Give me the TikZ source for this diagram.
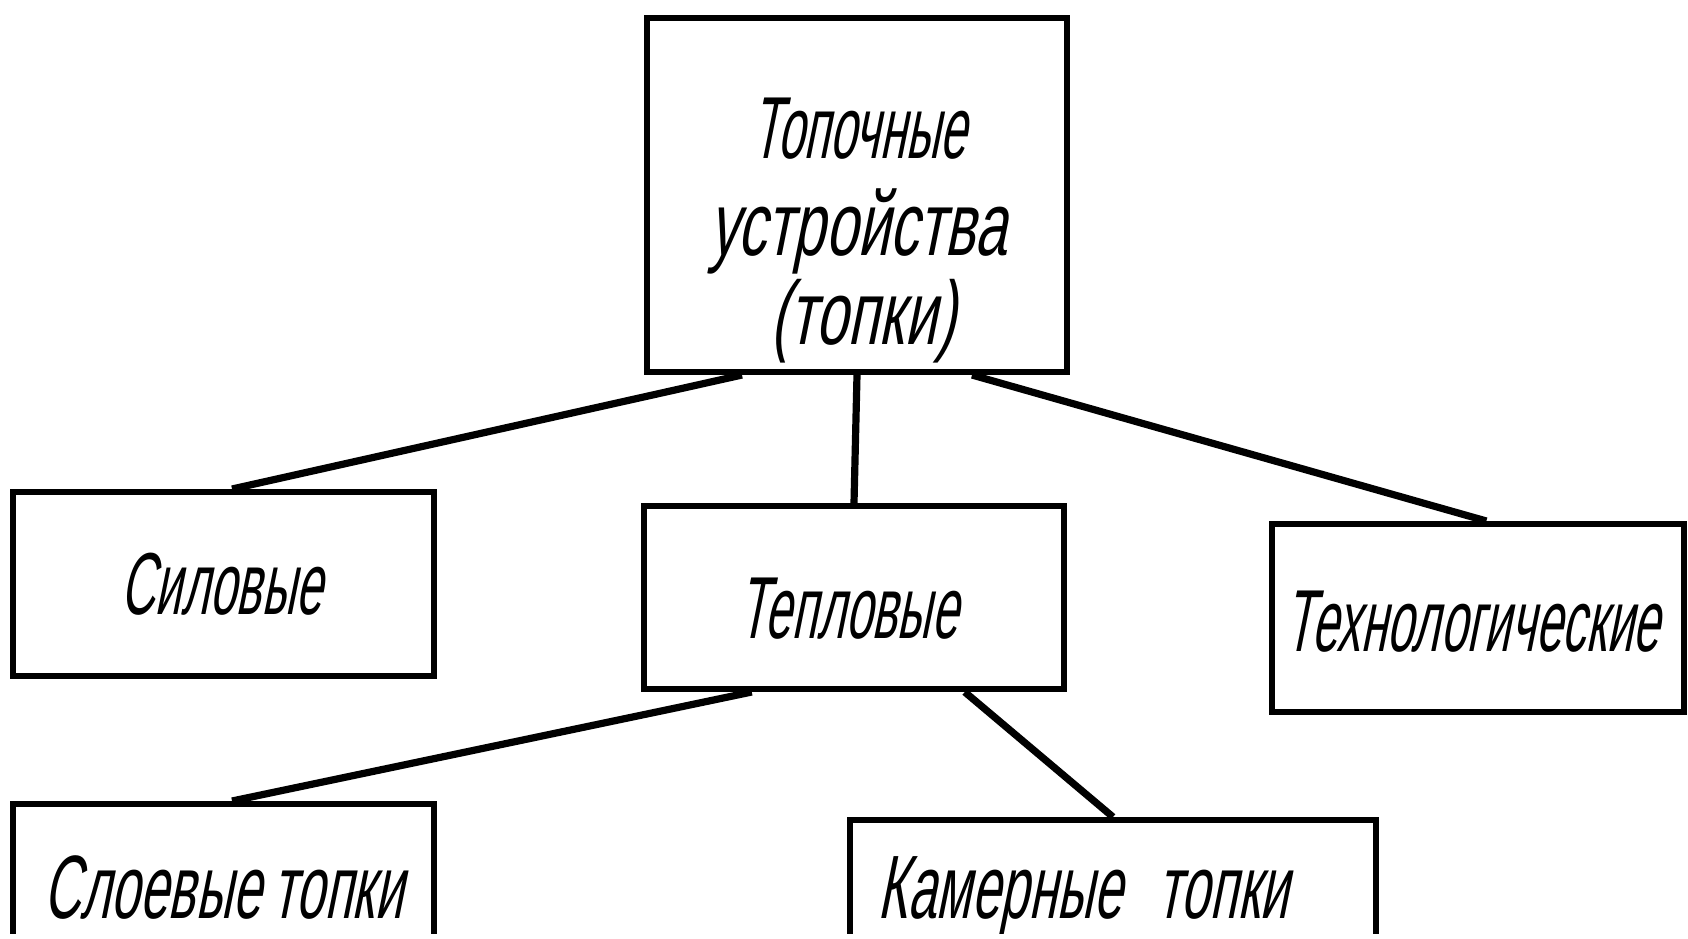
\documentclass[tikz,border=0pt]{standalone}
\usepackage{fontspec}
\newfontfamily\gost[FakeSlant=0.2,FakeStretch=0.54]{Liberation Sans}
\newfontfamily\gostw[FakeSlant=0.2,FakeStretch=0.64]{Liberation Sans}
\newfontfamily\gostm[FakeSlant=0.2,FakeStretch=0.57]{Liberation Sans}
\usetikzlibrary{calc}
\begin{document}
\begin{tikzpicture}[x=0.5pt,y=-0.5pt,
  box/.style={draw,line width=3pt,inner sep=0pt},
  lbl/.style={font=\gost\fontsize{44}{48}\selectfont,inner sep=0pt,anchor=base},
  wlbl/.style={font=\gostw\fontsize{45}{48}\selectfont,inner sep=0pt,anchor=base},
  blbl/.style={font=\gostm\fontsize{45}{48}\selectfont,inner sep=0pt,anchor=base west},
  link/.style={line width=3.6pt}]
\useasboundingbox (0,0) rectangle (1688,938);
\fill[white] (0,0) rectangle (1688,938);
\begin{scope}
\clip (-10,-10) rectangle (1700,933);
% boxes
\node[box,minimum width=210pt,minimum height=177pt] (top) at (857,195) {};
\node[box,minimum width=210.5pt,minimum height=92pt] (sil) at (223.5,584) {};
\node[box,minimum width=210pt,minimum height=91.5pt] (tep) at (854,597.5) {};
\node[box,minimum width=206pt,minimum height=94pt] (teh) at (1478,618) {};
\node[box,minimum width=210.5pt,minimum height=98pt] (slo) at (223.5,902) {};
\node[box,minimum width=263pt,minimum height=90pt] (kam) at (1113,910) {};
% texts
\node[lbl] (t1) at (859,158) {Топочные};
\node[wlbl] (t2) at (858,255) {устройства};
\node[wlbl] (t3) at (863,344) {(топки)};
\node[lbl] (tsil) at (221,614) {Силовые};
\node[lbl] (ttep) at (848,638) {Тепловые};
\node[lbl] (tteh) at (1472,651) {Технологические};
\node[blbl] (tslo) at (43,918) {Слоевые\hspace{6pt}топки};
\node[blbl] (tkam) at (877,918) {Камерные\hspace{18pt}топки};
% connectors
\draw[link] ($(top.south west)!0.23!(top.south east)$) -- ($(sil.north west)!0.52!(sil.north east)$);
\draw[link] (top.south) -- (tep.north);
\draw[link] ($(top.south west)!0.77!(top.south east)$) -- ($(teh.north west)!0.52!(teh.north east)$);
\draw[link] ($(tep.south west)!0.26!(tep.south east)$) -- ($(slo.north west)!0.52!(slo.north east)$);
\draw[link] ($(tep.south west)!0.76!(tep.south east)$) -- ($(kam.north west)!0.5!(kam.north east)$);
\end{scope}
\end{tikzpicture}
\end{document}
